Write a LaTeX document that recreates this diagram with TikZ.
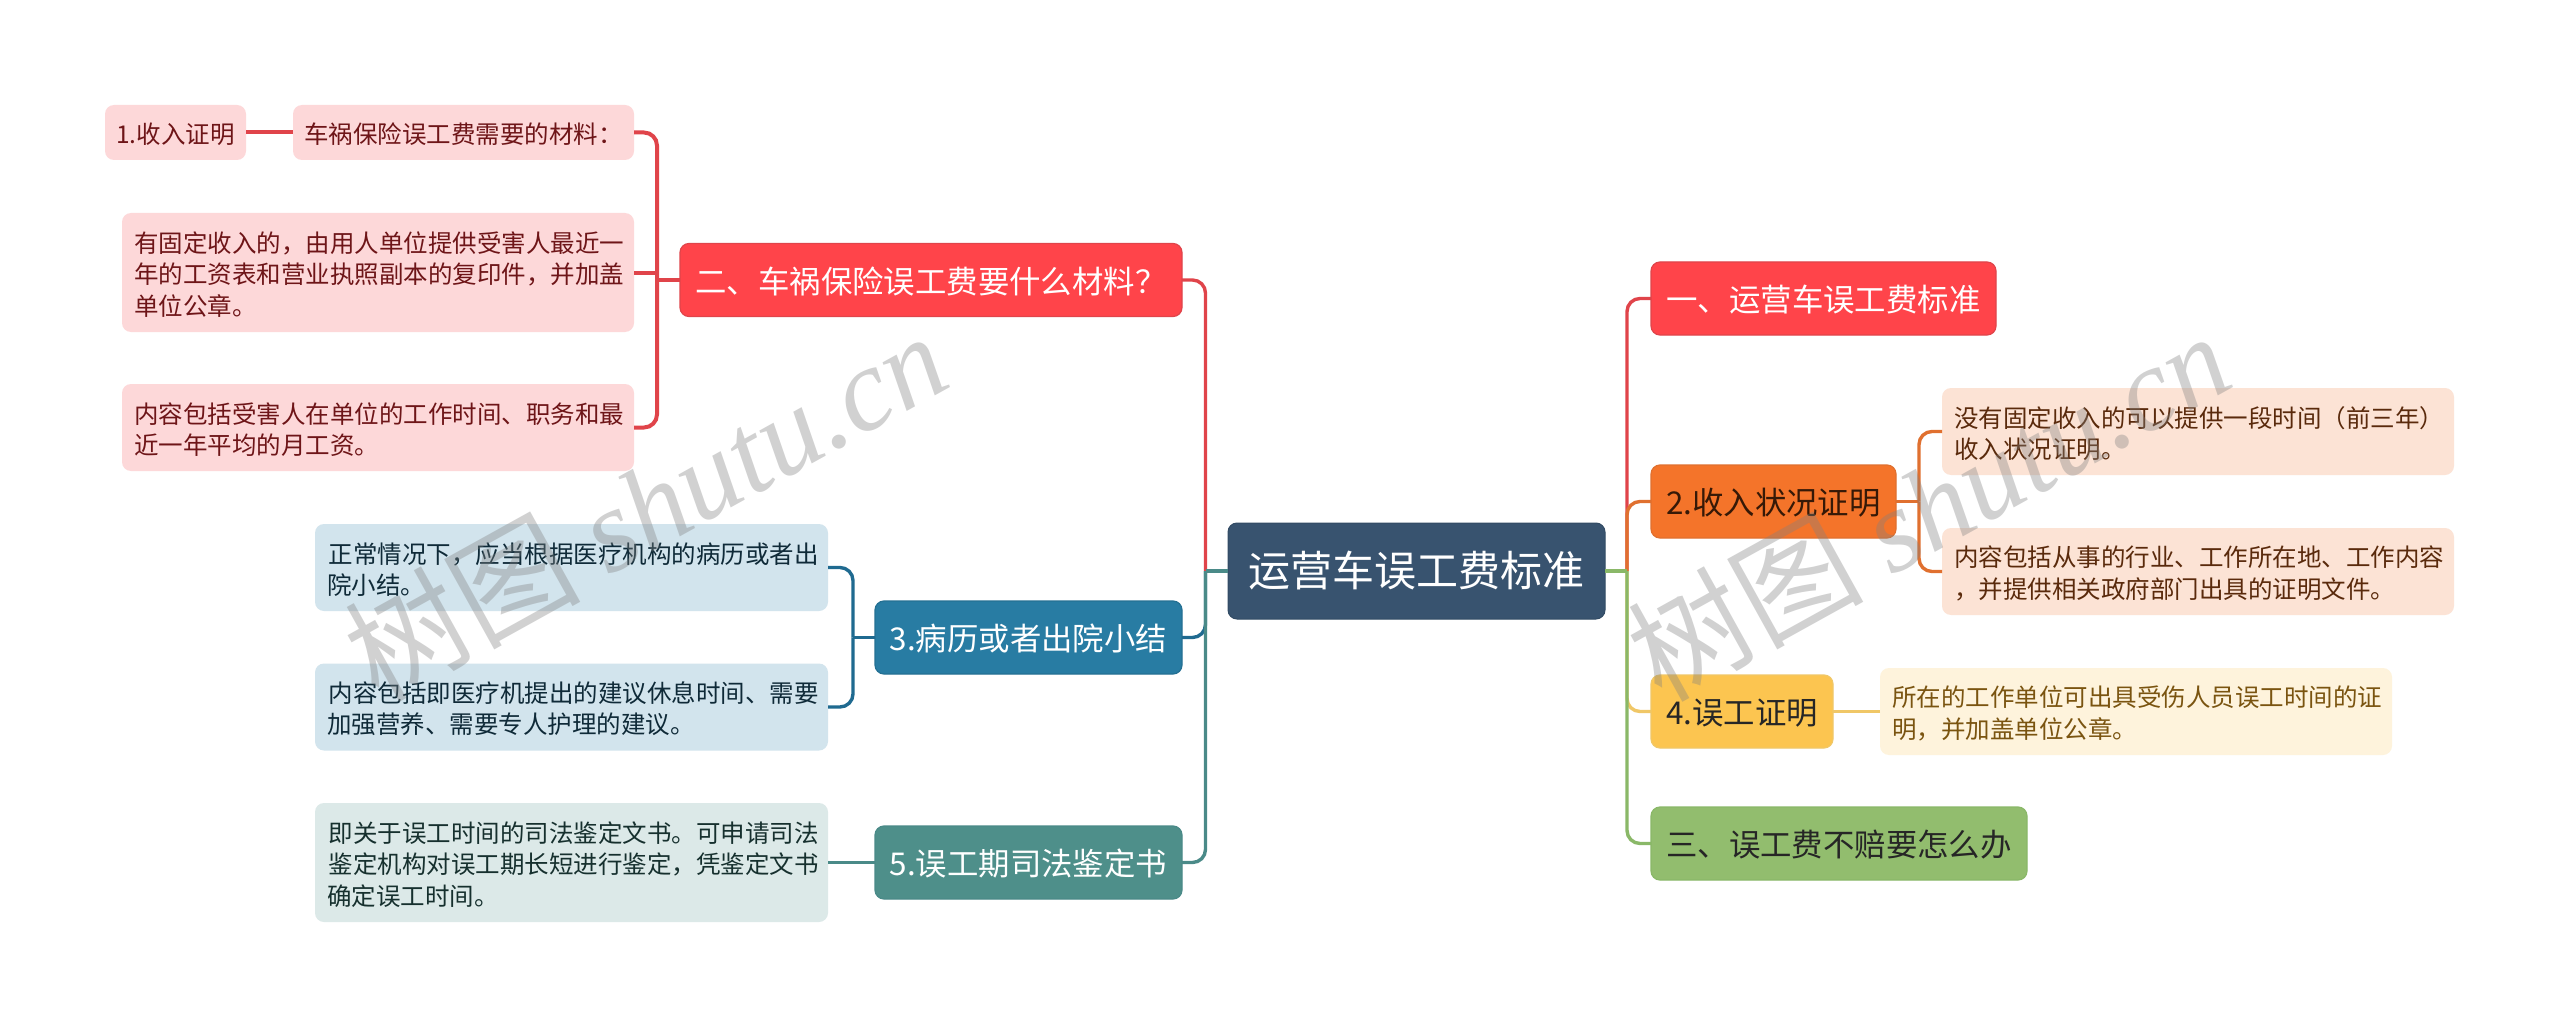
\documentclass[tikz,border=0pt]{standalone}
\usepackage{fontspec}
\setmainfont{Noto Sans CJK SC}
\newfontfamily\wmcjk[AutoFakeSlant=0.25]{Noto Sans CJK SC}
\newfontfamily\wmlat{Liberation Serif}
\definecolor{cRoot}{HTML}{38536F}
\definecolor{cRed}{HTML}{FF444A}\definecolor{lRed}{HTML}{E0444A}\definecolor{pRed}{HTML}{FDD8D9}\definecolor{tRed}{HTML}{6E1518}
\definecolor{cOrg}{HTML}{F4742A}\definecolor{lOrg}{HTML}{E0702F}\definecolor{pOrg}{HTML}{FCE3D5}\definecolor{tOrg}{HTML}{5A2A0C}
\definecolor{cYel}{HTML}{FCC550}\definecolor{lYel}{HTML}{F0C767}\definecolor{pYel}{HTML}{FEF3DC}\definecolor{tYel}{HTML}{7A5410}
\definecolor{cGrn}{HTML}{92BD6E}\definecolor{lGrn}{HTML}{8AB868}
\definecolor{cBlu}{HTML}{287CA3}\definecolor{lBlu}{HTML}{1F6A90}\definecolor{pBlu}{HTML}{D2E4ED}\definecolor{tBlu}{HTML}{0F2A38}
\definecolor{cTea}{HTML}{4E8F8A}\definecolor{lTea}{HTML}{4A8A88}\definecolor{pTea}{HTML}{DCE9E8}\definecolor{tTea}{HTML}{16302E}
\tikzset{
 base/.style={rounded corners=9pt,inner sep=0pt,outer sep=0pt,anchor=center},
 rootbox/.style={base,fill=cRoot,draw=cRoot!90!black,line width=1pt,text=white,font=\fontsize{42}{50}\selectfont,minimum width=377pt,minimum height=96pt},
 mainbox/.style={base,line width=1.2pt,font=\fontsize{31.4}{38}\selectfont,minimum height=73pt,text height=29pt,text depth=2.2pt},
 leafbox/.style={base,font=\fontsize{24.5}{31.3}\selectfont,align=left},
 singleleaf/.style={leafbox,fill=pRed,text=tRed,minimum height=55pt,text height=23pt,text depth=1.4pt},
 conn/.style={line width=3.4pt,rounded corners=13pt},
 redconn/.style={conn,lRed,line width=4pt},
 wm/.style={text=gray,opacity=0.36,rotate=29,anchor=center,inner sep=0pt}
}
\newcommand{\lpad}{0pt}
\newcommand{\leafnode}[7]{% name, cx, cy, w, h, fill, text
 \node[leafbox,fill=#6,minimum width=#4pt,minimum height=#5pt,text width=#4pt-24pt,inner xsep=12pt] (#1) at (#2,#3) {\leftskip=\lpad\relax\rule{0pt}{24.6pt}#7};}
\begin{document}
\begin{tikzpicture}[x=1pt,y=-1pt]
\useasboundingbox (0,0) rectangle (2560,1027);
\fill[white] (0,0) rectangle (2560,1027);
% root
\node[rootbox] (root) at (1416.5,571) {运营车误工费标准};
% left main
\node[mainbox,fill=cRed,draw=lRed,text=white,minimum width=502pt] (q2) at (931,280) {二、车祸保险误工费要什么材料？};
\node[mainbox,fill=cBlu,draw=cBlu!90!black,text=white,minimum width=307pt] (b3) at (1028.5,637.5) {3.病历或者出院小结};
\node[mainbox,fill=cTea,draw=lTea,text=white,minimum width=307pt] (b5) at (1028.5,862.5) {5.误工期司法鉴定书};
% right main
\node[mainbox,fill=cRed,draw=lRed,text=white,minimum width=345pt] (q1) at (1823.5,298.5) {一、运营车误工费标准};
\node[mainbox,fill=cOrg,draw=lOrg,text=tOrg!60!black,minimum width=245pt] (b2) at (1773.5,501.5) {2.收入状况证明};
\node[mainbox,fill=cYel,draw=lYel,text=black!85,minimum width=182pt] (b4) at (1742,711.5) {4.误工证明};
\node[mainbox,fill=cGrn,draw=lGrn,text=black!85,minimum width=376pt] (q3) at (1839,843.5) {三、误工费不赔要怎么办};
% leaves: red
\node[singleleaf,minimum width=141pt] (a0) at (175.5,132.5) {1.收入证明};
\node[singleleaf,minimum width=341pt] (a1) at (463.5,132.5) {车祸保险误工费需要的材料：};
\leafnode{a2}{378}{272.5}{512}{119}{pRed}{\color{tRed}有固定收入的，由用人单位提供受害人最近一\\年的工资表和营业执照副本的复印件，并加盖\\单位公章。}
\leafnode{a3}{378}{427.5}{512}{87}{pRed}{\color{tRed}内容包括受害人在单位的工作时间、职务和最\\近一年平均的月工资。}
% leaves: blue
\renewcommand{\lpad}{1.5pt}
\leafnode{c1}{571.5}{567.5}{513}{87}{pBlu}{\color{tBlu}正常情况下，应当根据医疗机构的病历或者出\\院小结。}
\leafnode{c2}{571.5}{707}{513}{87}{pBlu}{\color{tBlu}内容包括即医疗机提出的建议休息时间、需要\\加强营养、需要专人护理的建议。}
% leaf: teal
\leafnode{d1}{571.5}{862.5}{513}{119}{pTea}{\color{tTea}即关于误工时间的司法鉴定文书。可申请司法\\鉴定机构对误工期长短进行鉴定，凭鉴定文书\\确定误工时间。}
\renewcommand{\lpad}{0pt}
% leaves: orange
\leafnode{e1}{2198}{431.5}{512}{87}{pOrg}{\color{tOrg}没有固定收入的可以提供一段时间（前三年）\\收入状况证明。}
\leafnode{e2}{2198}{571.5}{512}{87}{pOrg}{\color{tOrg}内容包括从事的行业、工作所在地、工作内容\\，并提供相关政府部门出具的证明文件。}
% leaf: yellow
\leafnode{f1}{2136}{711.5}{512}{87}{pYel}{\color{tYel}所在的工作单位可出具受伤人员误工时间的证\\明，并加盖单位公章。}
% junction coordinates
\coordinate (jl) at (1205.5,571);
\coordinate (jr) at (1627,571);
\coordinate (ja) at (657,280);
\coordinate (jc) at (853,637.5);
\coordinate (je) at (1919,501.5);
% root to main, left
\draw[conn,lRed] (q2.east) -| (jl);
\draw[conn,lBlu] (b3.east) -| (jl);
\draw[conn,lTea] (b5.east) -| (jl);
\draw[conn,lTea] (jl) -- (root.west);
% root to main, right
\draw[conn,lRed] (q1.west) -| (jr);
\draw[conn,lOrg] (b2.west) -| (jr);
\draw[conn,lYel] (b4.west) -| (jr);
\draw[conn,lGrn] (q3.west) -| (jr);
\draw[conn,lGrn] (jr) -- (root.east);
% level 2 left
\draw[redconn] (a0.east) -- (a1.west);
\draw[redconn] (a1.east) -| (ja);
\draw[redconn] (a3.east) -| (ja);
\draw[redconn] (a2.east) -- (ja |- a2.east);
\draw[redconn] (ja) -- (q2.west);
\draw[conn,lBlu] (c1.east) -| (jc);
\draw[conn,lBlu] (c2.east) -| (jc);
\draw[conn,lBlu] (jc) -- (b3.west);
\draw[conn,lTea] (d1.east) -- (b5.west);
% level 2 right
\draw[conn,lOrg] (e1.west) -| (je);
\draw[conn,lOrg] (e2.west) -| (je);
\draw[conn,lOrg] (je) -- (b2.east);
\draw[conn,lYel] (f1.west) -- (b4.east);
% watermark
\node[wm] (w1) at (645,505) {\fontsize{118}{124}\selectfont\wmcjk 树图\ \wmlat\itshape shutu.cn};
\node[wm] (w2) at (1928,505) {\fontsize{118}{124}\selectfont\wmcjk 树图\ \wmlat\itshape shutu.cn};
\end{tikzpicture}
\end{document}
